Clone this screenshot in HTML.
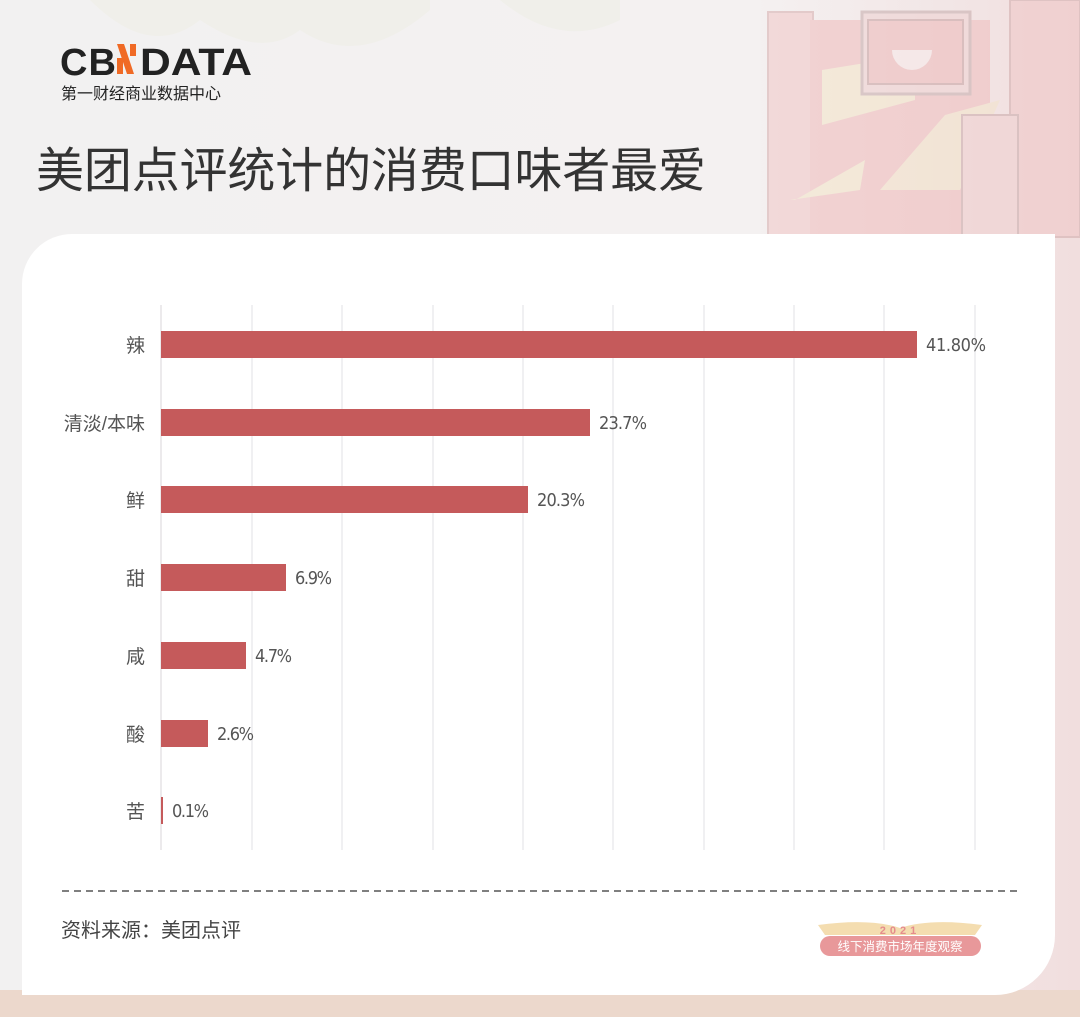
<!DOCTYPE html>
<html><head><meta charset="utf-8"><style>
html,body{margin:0;padding:0;}
body{width:1080px;height:1017px;overflow:hidden;position:relative;font-family:"Liberation Sans","Noto Sans CJK SC",sans-serif;background:#f3f2f2;}
</style></head><body>
<svg width="1080" height="1017" style="position:absolute;left:0;top:0">
  <defs>
    <linearGradient id="bg" x1="0" y1="0" x2="1" y2="0">
      <stop offset="0" stop-color="#f2f1f1"/><stop offset="0.7" stop-color="#f4f1f1"/><stop offset="1" stop-color="#f1dede"/>
    </linearGradient>
  </defs>
  <rect width="1080" height="1017" fill="url(#bg)"/>
  <rect x="0" y="990" width="1080" height="27" fill="#ecd8cc"/>
  <!-- faint clouds -->
  <path d="M90 0 Q150 60 200 20 Q260 60 300 30 Q360 70 430 10 L430 0Z" fill="#f0efea"/>
  <path d="M500 0 Q560 50 620 20 L620 0Z" fill="#f0efea"/>
  <!-- building illustration -->
  <g opacity="0.6">
    <rect x="768" y="12" width="45" height="225" fill="#f2caca" stroke="#d9b3b3" stroke-width="2"/>
    <rect x="810" y="20" width="180" height="215" fill="#f0c0c0"/>
    <polygon points="822,70 915,55 915,100 822,125" fill="#f3e7cc"/>
    <rect x="862" y="12" width="108" height="82" fill="#efd3d3" stroke="#c9b0b0" stroke-width="3"/>
    <rect x="868" y="20" width="95" height="64" fill="#eebcbc" stroke="#c9a5a5" stroke-width="2"/>
    <path d="M892 50 h40 a20 20 0 0 1 -40 0z" fill="#f7e9e9"/>
    <rect x="1010" y="0" width="70" height="237" fill="#f0c8c8" stroke="#d4b0b0" stroke-width="2"/>
    <polygon points="795,200 865,160 860,190 790,200" fill="#f3e7cc"/>
    <polygon points="880,190 945,115 1000,100 960,190" fill="#f3e4cc"/>
    <rect x="962" y="115" width="56" height="122" fill="#efd0d0" stroke="#ccadad" stroke-width="2"/>
  </g>
  <!-- card -->
  <path d="M72 234 H1055 V935 A60 60 0 0 1 995 995 H22 V284 A50 50 0 0 1 72 234Z" fill="#ffffff"/>
  <!-- grid -->
  <g stroke="#e2e0e4" stroke-width="1">
    <line x1="252" y1="305" x2="252" y2="850"/><line x1="342" y1="305" x2="342" y2="850"/>
    <line x1="433" y1="305" x2="433" y2="850"/><line x1="523" y1="305" x2="523" y2="850"/>
    <line x1="613" y1="305" x2="613" y2="850"/><line x1="704" y1="305" x2="704" y2="850"/>
    <line x1="794" y1="305" x2="794" y2="850"/><line x1="884" y1="305" x2="884" y2="850"/>
    <line x1="975" y1="305" x2="975" y2="850"/>
  </g>
  <line x1="161" y1="305" x2="161" y2="850" stroke="#d8d6da"/>
  <!-- bars -->
  <g fill="#c55a5b">
    <rect x="161" y="331" width="756" height="27"/>
    <rect x="161" y="409" width="429" height="27"/>
    <rect x="161" y="486" width="367" height="27"/>
    <rect x="161" y="564" width="125" height="27"/>
    <rect x="161" y="642" width="85" height="27"/>
    <rect x="161" y="720" width="47" height="27"/>
    <rect x="161" y="797" width="2" height="27"/>
  </g>
  <g font-size="18" fill="#555" font-family="DejaVu Sans Condensed, Liberation Sans Narrow, sans-serif">
    <text x="926" y="351" textLength="60">41.80%</text>
    <text x="599" y="429" textLength="48">23.7%</text>
    <text x="537" y="506" textLength="48">20.3%</text>
    <text x="295" y="584" textLength="37">6.9%</text>
    <text x="255" y="662" textLength="37">4.7%</text>
    <text x="217" y="740" textLength="37">2.6%</text>
    <text x="172" y="817" textLength="37">0.1%</text>
  </g>
  <g font-size="19" fill="#555" text-anchor="end" font-family="Liberation Sans, Noto Sans CJK SC, sans-serif">
    <text x="145" y="352">辣</text>
    <text x="145" y="430">清淡/本味</text>
    <text x="145" y="507">鲜</text>
    <text x="145" y="585">甜</text>
    <text x="145" y="663">咸</text>
    <text x="145" y="741">酸</text>
    <text x="145" y="818">苦</text>
  </g>
  <line x1="62" y1="891" x2="1018" y2="891" stroke="#555" stroke-width="1.5" stroke-dasharray="7,5"/>
  <text x="61" y="937" font-size="20" fill="#444" font-family="Liberation Sans, Noto Sans CJK SC, sans-serif">资料来源：美团点评</text>
  <!-- badge -->
  <path d="M818 925 Q870 918 900 928 Q930 918 982 925 L975 935 L825 935Z" fill="#f4ddb0"/>
  <text x="900" y="934" font-size="11" fill="#e58c8c" text-anchor="middle" font-weight="bold" letter-spacing="4">2021</text>
  <rect x="820" y="936" width="161" height="20" rx="10" fill="#e8989a"/>
  <text x="900" y="951" font-size="12.5" fill="#fff" text-anchor="middle" font-family="Noto Sans CJK SC, sans-serif">线下消费市场年度观察</text>
  <!-- logo -->
  <text x="60" y="75" font-size="38" font-weight="bold" fill="#222" font-family="Liberation Sans, sans-serif" letter-spacing="1">CB</text>
  <path d="M117 44 L124 44 L134 74 L127 74Z" fill="#f06a25"/>
  <rect x="117" y="58" width="6" height="16" fill="#f06a25"/>
  <rect x="130" y="44" width="6" height="12" fill="#f06a25"/>
  <text x="140" y="75" font-size="38" font-weight="bold" fill="#222" font-family="Liberation Sans, sans-serif" textLength="112" lengthAdjust="spacingAndGlyphs">DATA</text>
  <text x="61" y="99" font-size="16" fill="#222" font-family="Noto Sans CJK SC, sans-serif">第一财经商业数据中心</text>
  <text x="36" y="187" font-size="48" fill="#333" font-family="Liberation Sans, Noto Sans CJK SC, sans-serif" textLength="670">美团点评统计的消费口味者最爱</text>
</svg>
</body></html>
